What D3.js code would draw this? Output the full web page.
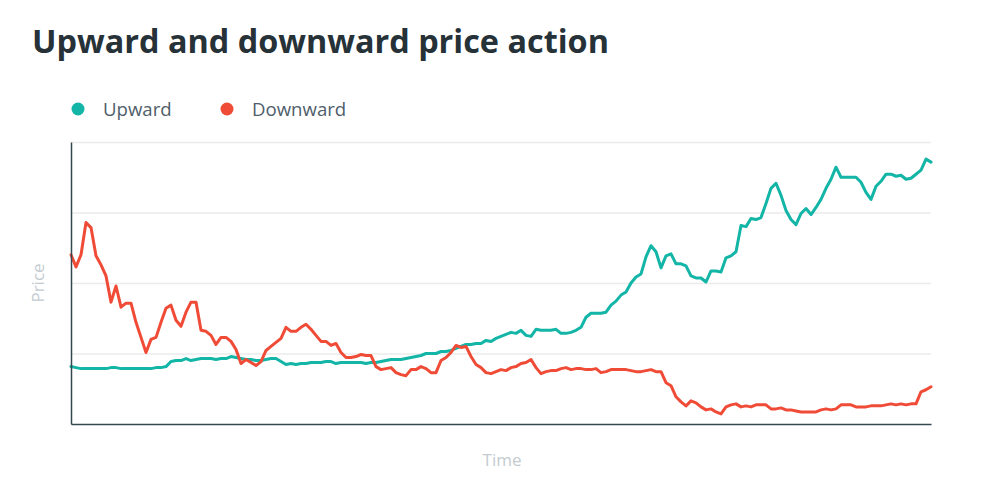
<!DOCTYPE html>
<html>
<head>
<meta charset="utf-8">
<script src="https://cdn.jsdelivr.net/npm/d3@7"></script>
<style>
  html, body { margin: 0; padding: 0; background: #fff; }
  svg { display: block; font-family: "Open Sans", sans-serif; }
</style>
</head>
<body>
<svg id="chart" width="981" height="484"></svg>
<script>
const title = "Upward and downward price action";
const seriesNames = ["Upward", "Downward"];
const seriesColors = ["#13b5a6", "#f04b37"];
const yTicks = [70, 140, 210, 280];

const upward = [57,56,55,55,55,55,55,55,56,56,55,55,55,55,55,55,55,56,56,57,
62,63,63,65,63,64,65,65,65,64,65,65,67,66,65,64,64,63,63,64,
65,65,62,59,60,59,60,60,61,61,61,62,62,60,61,61,61,61,61,60,
61,61,62,63,64,64,64,65,66,67,68,70,70,70,72,72,73,75,77,79,
79,80,80,83,82,85,87,89,91,90,93,88,87,94,93,93,93,94,90,90,
91,93,96,106,110,110,110,111,118,122,128,131,140,146,149,166,177,171,155,167,
169,159,159,157,147,145,145,141,152,152,151,165,167,171,197,196,204,203,205,219,
234,239,227,212,203,198,209,214,208,215,223,234,243,255,245,245,245,245,240,230,
223,236,241,248,248,246,247,243,244,248,252,263,260];

const downward = [168,156,168,200,195,167,158,147,121,137,116,120,120,101,86,71,84,86,101,115,
118,103,97,111,121,121,93,92,88,79,86,86,82,74,60,64,61,58,62,73,
77,81,85,96,92,92,96,99,94,88,82,82,78,80,71,66,66,67,69,68,
68,57,54,55,56,51,49,48,54,54,57,55,51,51,63,66,71,78,76,77,
67,59,56,51,50,52,54,53,56,57,60,61,64,56,50,52,53,53,55,56,
54,55,55,54,54,55,51,52,54,54,54,54,53,52,52,53,54,52,52,41,
38,27,22,18,23,21,17,14,15,12,10,17,19,20,17,18,17,19,19,19,
15,15,16,14,14,13,12,12,12,12,14,15,14,15,19,19,19,17,17,17,
18,18,18,19,20,19,20,19,20,20,32,34,37];

const svg = d3.select("#chart");
const plotLeft = 71, plotRight = 931, plotTop = 142, plotBottom = 424;

const x = d3.scaleLinear().domain([0, upward.length - 1]).range([plotLeft, plotRight]);
const y = d3.scaleLinear().domain([0, 280]).range([plotBottom, plotTop]);

// gridlines
const grid = svg.append("g")
  .attr("transform", `translate(${plotLeft},0)`)
  .call(d3.axisLeft(y).tickValues(yTicks).tickSize(-(plotRight - plotLeft)).tickFormat(""));
grid.select(".domain").remove();
grid.selectAll(".tick line").attr("stroke", "#ebebeb").attr("stroke-width", 1.5);

// lines
const line = d3.line().x((d, i) => x(i)).y(d => y(d)).curve(d3.curveLinear);
[upward, downward].forEach((s, k) => {
  svg.append("path")
    .datum(s)
    .attr("fill", "none")
    .attr("stroke", seriesColors[k])
    .attr("stroke-width", 3)
    .attr("stroke-linejoin", "round")
    .attr("stroke-linecap", "round")
    .attr("d", line);
});

// axes
const xAxis = svg.append("g")
  .attr("transform", `translate(0,${plotBottom})`)
  .call(d3.axisBottom(x).tickValues([]).tickSizeOuter(0));
xAxis.select(".domain").attr("stroke", "#37474f").attr("stroke-width", 1.5);
const yAxis = svg.append("g")
  .attr("transform", `translate(${plotLeft},0)`)
  .call(d3.axisLeft(y).tickValues([]).tickSizeOuter(0));
yAxis.select(".domain").attr("stroke", "#37474f").attr("stroke-width", 1.5);

// title
svg.append("text")
  .attr("x", 32).attr("y", 53)
  .attr("font-size", 32.4).attr("font-weight", 700)
  .attr("fill", "#263238")
  .text(title);

// legend
const legendX = [78, 227];
seriesNames.forEach((name, k) => {
  svg.append("circle").attr("cx", legendX[k]).attr("cy", 109).attr("r", 6.5).attr("fill", seriesColors[k]);
  svg.append("text").attr("x", legendX[k] + 25).attr("y", 115.5)
    .attr("font-size", 18.6).attr("fill", "#4f5e6a").text(name);
});

// axis titles
svg.append("text")
  .attr("transform", "translate(44,283) rotate(-90)")
  .attr("text-anchor", "middle")
  .attr("font-size", 17).attr("fill", "#c3cbd1")
  .text("Price");
svg.append("text")
  .attr("x", 502).attr("y", 466)
  .attr("text-anchor", "middle")
  .attr("font-size", 17).attr("fill", "#c3cbd1")
  .text("Time");
</script>
</body>
</html>
